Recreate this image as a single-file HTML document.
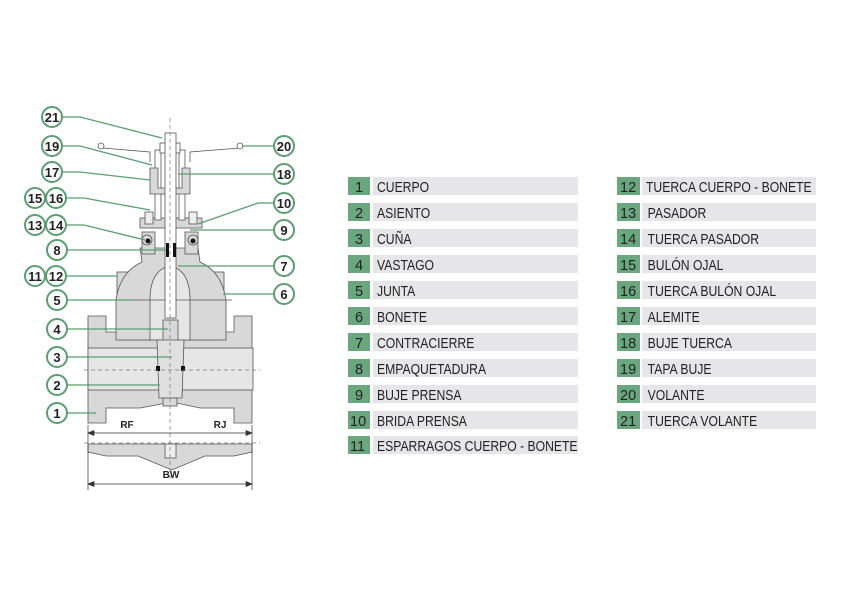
<!DOCTYPE html>
<html><head><meta charset="utf-8"><style>
html,body{margin:0;padding:0;background:#fff;width:842px;height:595px;overflow:hidden}
svg{display:block}
.n{font-family:"Liberation Sans",sans-serif;font-weight:bold;font-size:13px;fill:#222;text-anchor:middle}
.t{font-family:"Liberation Sans",sans-serif;font-size:14.5px;fill:#222}
.b{font-family:"Liberation Sans",sans-serif;font-weight:bold;font-size:10px;fill:#222;text-anchor:middle}
</style></head><body>
<svg width="842" height="595" viewBox="0 0 842 595" xmlns="http://www.w3.org/2000/svg">
<g stroke="#555" stroke-width="0.8" fill="#d8d8d8">
<path d="M88,316 H106 V332 H120 V340 H222 V332 H234 V316 H252 V423 H234 V408 H200 L172,402 L140,408 H106 V423 H88 Z"/>
<rect x="88" y="348" width="165" height="42" fill="#e6e6e6"/>
<rect x="117" y="272" width="14" height="48"/>
<rect x="210" y="272" width="14" height="48"/>
<path d="M140,248 H198 L200,262 Q222,272 226,300 L226,340 H116 V300 Q120,272 142,262 Z"/>
<path d="M150,340 V300 Q150,270 170,266 Q190,270 190,300 V340 Z" fill="#e6e6e6"/>
<line x1="110" y1="300" x2="232" y2="300"/>
<rect x="142" y="232" width="13" height="22"/>
<rect x="185" y="232" width="13" height="22"/>
<circle cx="147" cy="240" r="5"/><circle cx="193" cy="240" r="5"/>
<rect x="140" y="218" width="62" height="10"/>
<rect x="145" y="212" width="8" height="12" fill="#eee"/>
<rect x="189" y="212" width="8" height="12" fill="#eee"/>
<rect x="155" y="150" width="6" height="70" fill="#fff"/>
<rect x="179" y="150" width="6" height="70" fill="#fff"/>
<path d="M150,168 H158 V188 H182 V168 H190 V194 H150 Z"/>
<rect x="160" y="143" width="20" height="10" fill="#fff"/>
<polyline points="103,148 150,152 150,162" fill="none"/>
<polyline points="240,148 190,152 190,162" fill="none"/>
<circle cx="101" cy="146" r="3" fill="#fff"/><circle cx="240" cy="146" r="3" fill="#fff"/>
<rect x="165" y="133" width="11" height="185" fill="#fff"/>
<rect x="163" y="320" width="15" height="28"/>
<path d="M157,340 H184 L182,398 H159 Z" fill="#e0e0e0"/>
<rect x="163" y="398" width="14" height="8"/>
<path d="M88,444 H252 V452 L234,456 H205 L172,470 L138,456 H106 L88,452 Z"/>
<rect x="165" y="444" width="11" height="14" fill="#eee"/>
</g>
<g fill="#111"><rect x="156" y="366" width="4" height="5"/><rect x="181" y="366" width="4" height="5"/>
<circle cx="148" cy="241" r="2.5"/><circle cx="193" cy="241" r="2.5"/>
<rect x="166" y="243" width="3" height="14"/><rect x="173" y="243" width="3" height="14"/></g>
<g stroke="#777" stroke-width="0.7" stroke-dasharray="4,3" fill="none">
<line x1="170" y1="118" x2="170" y2="480"/>
<line x1="84" y1="370" x2="260" y2="370"/>
<line x1="84" y1="443" x2="260" y2="443"/>
</g>
<g stroke="#333" stroke-width="0.7" fill="#333">
<line x1="88" y1="425" x2="88" y2="490"/><line x1="252" y1="425" x2="252" y2="490"/>
<line x1="92" y1="433" x2="248" y2="433"/><line x1="92" y1="484" x2="248" y2="484"/>
<path d="M88,433 l6,-2.5 v5 z M252,433 l-6,-2.5 v5 z M88,484 l6,-2.5 v5 z M252,484 l-6,-2.5 v5 z"/>
</g>
<text class="b" x="127" y="428">RF</text><text class="b" x="220" y="428">RJ</text><text class="b" x="171" y="478">BW</text>
<g stroke="#5a9e72" stroke-width="1.3" fill="none">
<polyline points="62,117 80,117 162,138"/>
<polyline points="62,146 80,146 152,165"/>
<polyline points="62,172 80,172 150,180"/>
<polyline points="66,198 84,198 150,210"/>
<polyline points="66,225 84,225 145,240"/>
<line x1="67" y1="250" x2="166" y2="250"/>
<line x1="66" y1="276" x2="117" y2="276"/>
<line x1="67" y1="300" x2="132" y2="300"/>
<line x1="67" y1="329" x2="168" y2="329"/>
<line x1="67" y1="357" x2="172" y2="357"/>
<line x1="67" y1="385" x2="160" y2="385"/>
<line x1="67" y1="413" x2="96" y2="413"/>
<line x1="274" y1="146" x2="242" y2="146"/>
<line x1="274" y1="174" x2="178" y2="174"/>
<polyline points="274,203 258,203 198,224"/>
<line x1="274" y1="230" x2="190" y2="230"/>
<line x1="274" y1="266" x2="178" y2="266"/>
<line x1="274" y1="294" x2="223" y2="294"/>
</g>
<g stroke="#5a9e72" stroke-width="2" fill="#fff">
<circle cx="52" cy="117" r="10"/><circle cx="52" cy="146" r="10"/><circle cx="52" cy="172" r="10"/>
<circle cx="35" cy="198" r="10"/><circle cx="56" cy="198" r="10"/>
<circle cx="35" cy="225" r="10"/><circle cx="56" cy="225" r="10"/>
<circle cx="57" cy="250" r="10"/>
<circle cx="35" cy="276" r="10"/><circle cx="56" cy="276" r="10"/>
<circle cx="57" cy="300" r="10"/><circle cx="57" cy="329" r="10"/><circle cx="57" cy="357" r="10"/>
<circle cx="57" cy="385" r="10"/><circle cx="57" cy="413" r="10"/>
<circle cx="284" cy="146" r="10"/><circle cx="284" cy="174" r="10"/><circle cx="284" cy="203" r="10"/>
<circle cx="284" cy="230" r="10"/><circle cx="284" cy="266" r="10"/><circle cx="284" cy="294" r="10"/>
</g>
<text class="n" x="52" y="122">21</text><text class="n" x="52" y="151">19</text><text class="n" x="52" y="177">17</text>
<text class="n" x="35" y="203">15</text><text class="n" x="56" y="203">16</text>
<text class="n" x="35" y="230">13</text><text class="n" x="56" y="230">14</text>
<text class="n" x="57" y="255">8</text>
<text class="n" x="35" y="281">11</text><text class="n" x="56" y="281">12</text>
<text class="n" x="57" y="305">5</text><text class="n" x="57" y="334">4</text><text class="n" x="57" y="362">3</text>
<text class="n" x="57" y="390">2</text><text class="n" x="57" y="418">1</text>
<text class="n" x="284" y="151">20</text><text class="n" x="284" y="179">18</text><text class="n" x="284" y="208">10</text>
<text class="n" x="284" y="235">9</text><text class="n" x="284" y="271">7</text><text class="n" x="284" y="299">6</text>
<g fill="#6aa77e">
<rect x="348" y="177" width="22" height="18"/><rect x="348" y="203" width="22" height="18"/><rect x="348" y="229" width="22" height="18"/><rect x="348" y="255" width="22" height="18"/><rect x="348" y="281" width="22" height="18"/><rect x="348" y="307" width="22" height="18"/><rect x="348" y="333" width="22" height="18"/><rect x="348" y="359" width="22" height="18"/><rect x="348" y="385" width="22" height="18"/><rect x="348" y="411" width="22" height="18"/><rect x="348" y="436" width="22" height="18"/>
<rect x="617" y="177" width="23" height="18"/><rect x="617" y="203" width="23" height="18"/><rect x="617" y="229" width="23" height="18"/><rect x="617" y="255" width="23" height="18"/><rect x="617" y="281" width="23" height="18"/><rect x="617" y="307" width="23" height="18"/><rect x="617" y="333" width="23" height="18"/><rect x="617" y="359" width="23" height="18"/><rect x="617" y="385" width="23" height="18"/><rect x="617" y="411" width="23" height="18"/>
</g>
<g fill="#e6e6e8">
<rect x="373" y="177" width="205" height="18"/><rect x="373" y="203" width="205" height="18"/><rect x="373" y="229" width="205" height="18"/><rect x="373" y="255" width="205" height="18"/><rect x="373" y="281" width="205" height="18"/><rect x="373" y="307" width="205" height="18"/><rect x="373" y="333" width="205" height="18"/><rect x="373" y="359" width="205" height="18"/><rect x="373" y="385" width="205" height="18"/><rect x="373" y="411" width="205" height="18"/><rect x="373" y="436" width="205" height="18"/>
<rect x="642" y="177" width="174" height="18"/><rect x="642" y="203" width="174" height="18"/><rect x="642" y="229" width="174" height="18"/><rect x="642" y="255" width="174" height="18"/><rect x="642" y="281" width="174" height="18"/><rect x="642" y="307" width="174" height="18"/><rect x="642" y="333" width="174" height="18"/><rect x="642" y="359" width="174" height="18"/><rect x="642" y="385" width="174" height="18"/><rect x="642" y="411" width="174" height="18"/>
</g>
<g transform="translate(0,0)">
<text class="t" x="355" y="192">1</text><text class="t" x="355" y="218">2</text><text class="t" x="355" y="244">3</text><text class="t" x="355" y="270">4</text><text class="t" x="355" y="296">5</text><text class="t" x="355" y="322">6</text><text class="t" x="355" y="348">7</text><text class="t" x="355" y="374">8</text><text class="t" x="355" y="400">9</text><text class="t" x="350" y="426">10</text><text class="t" x="350" y="451">11</text>
<text class="t" x="620" y="192">12</text><text class="t" x="620" y="218">13</text><text class="t" x="620" y="244">14</text><text class="t" x="620" y="270">15</text><text class="t" x="620" y="296">16</text><text class="t" x="620" y="322">17</text><text class="t" x="620" y="348">18</text><text class="t" x="620" y="374">19</text><text class="t" x="620" y="400">20</text><text class="t" x="620" y="426">21</text>
</g>
<g transform="translate(377,0) scale(0.84,1)">
<text class="t" x="0" y="192">CUERPO</text>
<text class="t" x="0" y="218">ASIENTO</text>
<text class="t" x="0" y="244">CUÑA</text>
<text class="t" x="0" y="270">VASTAGO</text>
<text class="t" x="0" y="296">JUNTA</text>
<text class="t" x="0" y="322">BONETE</text>
<text class="t" x="0" y="348">CONTRACIERRE</text>
<text class="t" x="0" y="374">EMPAQUETADURA</text>
<text class="t" x="0" y="400">BUJE PRENSA</text>
<text class="t" x="0" y="426">BRIDA PRENSA</text>
<text class="t" x="0" y="451">ESPARRAGOS CUERPO - BONETE</text>
</g>
<g transform="translate(646,0) scale(0.84,1)">
<text class="t" x="0" y="192">TUERCA CUERPO - BONETE</text>
<text class="t" x="2" y="218">PASADOR</text>
<text class="t" x="2" y="244">TUERCA PASADOR</text>
<text class="t" x="2" y="270">BULÓN OJAL</text>
<text class="t" x="2" y="296">TUERCA BULÓN OJAL</text>
<text class="t" x="2" y="322">ALEMITE</text>
<text class="t" x="2" y="348">BUJE TUERCA</text>
<text class="t" x="2" y="374">TAPA BUJE</text>
<text class="t" x="2" y="400">VOLANTE</text>
<text class="t" x="2" y="426">TUERCA VOLANTE</text>
</g>
</svg>
</body></html>
